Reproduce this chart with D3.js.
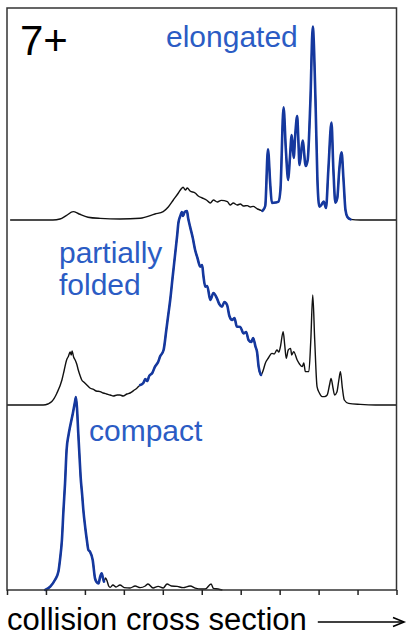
<!DOCTYPE html>
<html>
<head>
<meta charset="utf-8">
<script src="https://cdn.jsdelivr.net/npm/d3@7"></script>
<style>
  body { margin: 0; background: #fff; }
  svg { display: block; }
</style>
</head>
<body>
<svg width="409" height="637"></svg>
<script>
// collision cross section (arbitrary units, 0-100) and intensity (arbitrary units)
const compactCcs = [9.8,11.1,12.3,13.2,13.6,14.1,14.5,14.9,15.3,15.8,16.2,16.9,17.4,17.7,18.0,18.3,18.6,18.9,19.3,19.6,20.1,20.5,20.9,21.3,22.0,22.6,23.0,23.5,23.9,24.3,24.7,24.9,25.3,25.7,26.1,26.5,27.2,28.0,29.0,30.1,31.6,32.9,34.2,35.5,36.2,37.5,38.8,40.1,41.1,42.2,43.7,45.2,47.0,48.6,49.6,50.9,52.4,53.0,54.2,55.3];
const compactInt = [0,1.7,5,9.2,15,25,40,53.3,70,77.5,81.7,88.3,93.5,96.5,90,78.3,67.5,56.7,47.5,40,31,25,20,19.2,15,5.8,4,3.3,6.5,8.3,5.5,4.2,6,4.5,2,1.3,2.5,1.5,2.5,1.2,1,2,1.2,2,3,1,1.8,1,3,2,1.8,1.2,2,0.8,0.5,0.5,3,0.8,0.5,0];

const foldedCcs = [0,4.6,9.3,10.5,11.5,12.8,14.1,14.7,15.3,15.8,16.2,16.5,16.7,17.1,17.5,17.9,18.3,18.8,19.2,19.7,20.5,21.3,22.2,22.9,23.9,24.7,25.6,26.5,27.3,28.3,29.0,29.8,30.8,31.6,32.5,33.4,34.2,35.0,35.5,36.0,36.5,37.3,38.0,38.8,39.3,40.2,40.9,41.4,41.9,42.5,43.2,43.7,44.0,44.5,44.9,45.2,45.6,46.2,46.5,47.0,47.7,48.3,48.9,49.6,50.1,50.4,50.9,51.4,52.2,53.0,53.9,54.5,55.2,55.8,56.5,57.1,57.8,58.4,59.0,59.9,60.7,61.4,62.0,62.7,63.2,63.8,64.2,64.6,65.2,65.8,66.3,67.1,68.0,68.6,69.3,69.8,70.2,70.9,71.3,71.7,72.2,72.8,73.1,73.6,74.5,75.1,75.8,76.2,76.6,77.5,78.0,78.5,79.0,79.6,80.2,80.9,81.5,82.2,82.8,83.2,83.7,84.1,84.7,85.2,85.6,86.1,86.6,87.7,90.7,94.6,100];
const foldedInt = [0,0,0,0.5,1.7,5.9,12.5,17.5,22.5,24.5,26.5,25,27,24,22.5,20.5,17.5,14.5,12.5,11.5,10,8.5,7.8,7,6.7,6,5.5,5,4.5,5,5,4.5,5.5,6,7.2,8.5,10,11,13,12,14.5,16,19.2,21.5,24.2,27.5,37.5,45,52.5,63.5,76,85,91,94.5,96.5,94.5,96.5,97,93.5,89.2,83.5,77.5,73.5,69.2,70,65,59.2,59.5,52.5,56,53.3,50.5,49.2,51.5,50,44.5,42.5,43.5,39.2,39,35.8,36.5,32.5,31.5,33.5,29.2,26.5,19.2,15,17.5,20.8,23.5,25.8,25.5,27.5,26.5,29.2,36.7,30,23.3,27.5,28.3,25,26.7,22.5,20.5,19.2,21,16.7,16.7,32.5,55,32.5,9.2,6,4.2,4.2,5,10,13.3,8.5,5,6.5,12.5,16.7,8.5,2.5,0.8,0.3,0,0];

const elongatedCcs = [0.8,5.9,11.8,13.6,15.2,17.0,18.5,20.8,23.9,29.0,34.2,38.0,40.1,41.4,42.7,44.0,44.7,45.2,45.8,46.3,47.0,48.3,49.1,50.1,51.2,52.2,53.0,54.0,55.0,56.6,57.3,58.1,59.1,59.9,60.7,61.7,62.5,63.2,64.3,65.0,65.6,66.3,67.0,67.6,68.0,68.9,69.7,70.2,71.0,71.6,72.2,72.6,73.1,73.6,74.0,74.5,74.8,75.1,75.9,76.7,77.2,77.9,78.5,79.2,79.7,80.2,80.7,81.3,81.9,82.5,83.3,83.8,84.3,84.8,85.3,85.9,86.4,86.9,87.4,88.2,90.7,94.6,100];
const elongatedInt = [0,0,0,0.5,2.2,4.2,3,1.4,0.8,0.5,0.9,3,4.2,6.5,10,13.5,15.5,16.4,15,16,14.5,13.5,12,11,10,8.5,10,9,9.8,9.2,7.5,8.5,7.5,8,7,7.2,6.5,6.8,5.5,5,4.6,7,35.4,17.5,8.5,8.7,9.2,15,56.4,35,20,30,42.5,31,42.5,52,40,27.5,39.7,27,30,60,96.7,60,20,6.7,7.5,9.2,6,25,48.7,25,8.7,11,25,33.8,20,5,1.5,0.3,0,0,0];

const traceNames = ["elongated", "partially folded", "compact"];
const traceOffsets = [185, 92.5, 0];
// ccs range of each trace drawn in blue
const blueRanges = [[65.6, 88.2], [34.2, 65.2], [9.8, 24.9]];
const tickValues = [0, 10, 20, 30, 40, 50, 60, 70, 80, 90, 100];

const svg = d3.select("svg");
const lineBlue = "#15389e";
const textBlue = "#2b5cc4";

const x = d3.scaleLinear().domain([0, 100]).range([7, 396.5]);
const y = d3.scaleLinear().domain([0, 291]).range([590, 8]);

const line = d3.line()
    .x(d => x(d[0]))
    .y(d => y(d[1]))
    .curve(d3.curveMonotoneX);

const traces = [
    { ccs: elongatedCcs, val: elongatedInt },
    { ccs: foldedCcs, val: foldedInt },
    { ccs: compactCcs, val: compactInt }
];

const g = svg.append("g");

traces.forEach((t, i) => {
    const pts = d3.zip(t.ccs, t.val.map(v => v + traceOffsets[i]));
    const [b0, b1] = blueRanges[i];

    g.append("path")
        .datum(pts)
        .attr("fill", "none")
        .attr("stroke", "#111")
        .attr("stroke-width", 1.4)
        .attr("stroke-linejoin", "round")
        .attr("d", line);

    g.append("path")
        .datum(pts.filter(p => p[0] >= b0 && p[0] <= b1))
        .attr("fill", "none")
        .attr("stroke", lineBlue)
        .attr("stroke-width", 2.6)
        .attr("stroke-linejoin", "round")
        .attr("stroke-linecap", "round")
        .attr("d", line);
});

// frame
svg.append("rect")
    .attr("x", x(0))
    .attr("y", y(291))
    .attr("width", x(100) - x(0))
    .attr("height", y(0) - y(291))
    .attr("fill", "none")
    .attr("stroke", "#333")
    .attr("stroke-width", 1.5);

// bottom ticks
const xAxis = d3.axisBottom(x).tickValues(tickValues).tickSize(5).tickSizeOuter(0).tickFormat("");
const xAxisGroup = svg.append("g").attr("transform", `translate(0,${y(0)})`).call(xAxis);
xAxisGroup.select(".domain").remove();
xAxisGroup.selectAll("line").attr("stroke", "#222").attr("stroke-width", 1.5);

// labels
const font = "'Liberation Sans', Arial, sans-serif";

svg.append("text")
    .attr("x", 20).attr("y", 55)
    .attr("font-family", font).attr("font-size", 42)
    .attr("fill", "#000")
    .text("7+");

svg.append("text")
    .attr("x", 166).attr("y", 47)
    .attr("font-family", font).attr("font-size", 30)
    .attr("fill", textBlue)
    .text(traceNames[0]);

const folded = svg.append("text")
    .attr("font-family", font).attr("font-size", 30)
    .attr("fill", textBlue);
folded.append("tspan").attr("x", 59).attr("y", 263).text("partially");
folded.append("tspan").attr("x", 59).attr("y", 295).text("folded");

svg.append("text")
    .attr("x", 89).attr("y", 441)
    .attr("font-family", font).attr("font-size", 30)
    .attr("fill", textBlue)
    .text(traceNames[2]);

const xLabel = svg.append("text")
    .attr("x", 7).attr("y", 630)
    .attr("font-family", font).attr("font-size", 31)
    .attr("fill", "#000")
    .text("collision cross section");

// arrow after the axis label
const arrowY = 622;
const arrowStart = 7 + xLabel.node().getComputedTextLength() + 11;
const arrowEnd = 404;
svg.append("line")
    .attr("x1", arrowStart).attr("x2", arrowEnd)
    .attr("y1", arrowY).attr("y2", arrowY)
    .attr("stroke", "#000").attr("stroke-width", 1.6);
svg.append("path")
    .attr("d", `M${arrowEnd - 11},${arrowY - 4.5}L${arrowEnd},${arrowY}L${arrowEnd - 11},${arrowY + 4.5}`)
    .attr("fill", "none")
    .attr("stroke", "#000")
    .attr("stroke-width", 1.6);
</script>
</body>
</html>
